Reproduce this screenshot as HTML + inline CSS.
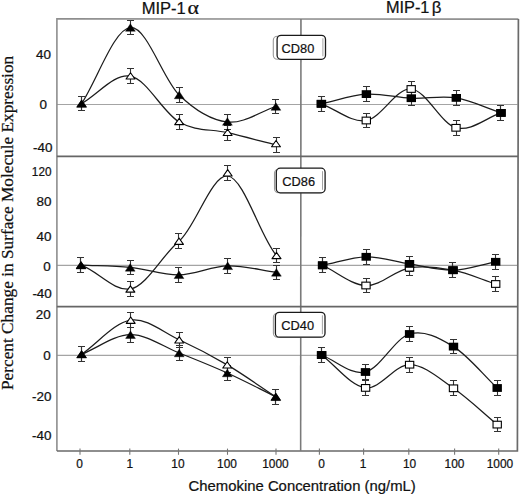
<!DOCTYPE html>
<html><head><meta charset="utf-8"><style>
html,body{margin:0;padding:0;background:#fff;}
svg{display:block;}
text{font-family:"Liberation Sans",sans-serif;fill:#111;stroke:#111;stroke-width:0.22px;}
</style></head><body>
<svg width="520" height="495" viewBox="0 0 520 495">
<rect width="520" height="495" fill="#fff"/>
<text transform="translate(141.7,13.5) scale(1.035,1)" font-size="16">MIP-1</text><text transform="translate(187.5,13.6) scale(1.22,1)" style="font-family:'Liberation Serif',serif" font-size="18">α</text>
<text transform="translate(385.9,13.4) scale(1.02,1)" font-size="16">MIP-1<tspan dx="2.4" font-size="16.5">β</tspan></text>
<text transform="translate(13.3,390) rotate(-90)" font-size="17.28" style="font-family:'Liberation Serif',serif">Percent Change in Surface Molecule Expression</text>
<text x="188.6" y="490.8" font-size="14.87">Chemokine Concentration (ng/mL)</text>
<g font-size="12"><text transform="translate(50.900000000000006,58.5) scale(1.12,1)" text-anchor="end">40</text><text transform="translate(47.0,108.5) scale(1.12,1)" text-anchor="end">0</text><text transform="translate(52.5,151.9) scale(1.12,1)" text-anchor="end">-40</text><text transform="translate(51.5,175.60000000000002) scale(0.98,1)" text-anchor="end">120</text><text transform="translate(51.5,206.3) scale(1.12,1)" text-anchor="end">80</text><text transform="translate(51.5,240.60000000000002) scale(1.12,1)" text-anchor="end">40</text><text transform="translate(50.7,270.5) scale(1.12,1)" text-anchor="end">0</text><text transform="translate(51.800000000000004,298.3) scale(1.12,1)" text-anchor="end">-40</text><text transform="translate(50.7,319.3) scale(1.12,1)" text-anchor="end">20</text><text transform="translate(50.7,359.8) scale(1.12,1)" text-anchor="end">0</text><text transform="translate(51.5,400.5) scale(1.12,1)" text-anchor="end">-20</text><text transform="translate(51.5,439.5) scale(1.12,1)" text-anchor="end">-40</text></g>
<g font-size="11.9"><text x="79.6" y="467.8" text-anchor="middle">0</text><text x="129.8" y="467.8" text-anchor="middle">1</text><text x="177.9" y="467.8" text-anchor="middle">10</text><text x="227" y="467.8" text-anchor="middle">100</text><text x="275.45" y="467.8" text-anchor="middle">1000</text><text x="321.5" y="467.8" text-anchor="middle">0</text><text x="363.1" y="467.8" text-anchor="middle">1</text><text x="409.6" y="467.8" text-anchor="middle">10</text><text x="454.5" y="467.8" text-anchor="middle">100</text><text x="499.9" y="467.8" text-anchor="middle">1000</text></g>
<path d="M57,104.5H517.5" stroke="#a4a4a4" stroke-width="1.2" fill="none"/><path d="M57,265.4H517.5" stroke="#a4a4a4" stroke-width="1.2" fill="none"/><path d="M57,355.3H517.5" stroke="#a4a4a4" stroke-width="1.2" fill="none"/><path d="M81.60,103.60 C97.87,78.23 114.13,28.93 130.40,27.50 C146.67,26.07 162.93,79.15 179.20,95.00 C195.27,110.65 211.33,120.09 227.40,122.00 C243.57,123.92 259.73,111.67 275.90,106.50" stroke="#1c1c1c" stroke-width="1.25" fill="none"/><path d="M81.60,103.60 C97.90,94.47 114.20,73.13 130.50,76.20 C146.73,79.26 162.97,112.55 179.20,122.00 C195.33,131.39 211.47,128.88 227.60,132.70 C243.73,136.52 259.87,140.83 276.00,144.90" stroke="#1c1c1c" stroke-width="1.25" fill="none"/><path d="M321.40,103.80 C336.40,100.57 351.40,95.03 366.40,94.10 C381.37,93.17 396.33,97.57 411.30,98.20 C426.30,98.83 441.30,95.44 456.30,97.90 C471.20,100.34 486.10,107.90 501.00,112.90" stroke="#1c1c1c" stroke-width="1.25" fill="none"/><path d="M321.40,103.80 C336.37,109.37 351.33,122.97 366.30,120.50 C381.27,118.03 396.23,87.78 411.20,89.00 C426.13,90.22 441.07,123.83 456.00,127.80 C471.00,131.79 486.00,117.87 501.00,112.90" stroke="#1c1c1c" stroke-width="1.25" fill="none"/><path d="M81.00,265.20 C97.40,265.93 113.80,265.79 130.20,267.40 C146.47,268.99 162.73,275.07 179.00,274.80 C195.23,274.53 211.47,266.20 227.70,265.80 C243.93,265.40 260.17,270.20 276.40,272.40" stroke="#1c1c1c" stroke-width="1.25" fill="none"/><path d="M81.00,265.20 C97.47,270.75 113.93,291.82 130.40,289.00 C146.60,286.22 162.80,254.37 179.00,241.20 C195.23,228.00 211.47,174.33 227.70,176.00 C243.97,177.67 260.23,236.95 276.50,255.50" stroke="#1c1c1c" stroke-width="1.25" fill="none"/><path d="M322.60,265.30 C337.13,262.47 351.67,257.03 366.20,256.80 C380.63,256.57 395.07,261.67 409.50,263.90 C424.00,266.14 438.50,270.55 453.00,270.20 C467.23,269.85 481.47,264.60 495.70,261.80" stroke="#1c1c1c" stroke-width="1.25" fill="none"/><path d="M322.60,265.30 C337.07,272.03 351.53,285.08 366.00,285.50 C380.50,285.92 395.00,270.35 409.50,267.80 C424.00,265.25 438.50,267.47 453.00,270.20 C467.23,272.87 481.47,279.40 495.70,284.00" stroke="#1c1c1c" stroke-width="1.25" fill="none"/><path d="M81.60,354.30 C97.90,347.77 114.20,334.92 130.50,334.70 C146.73,334.48 162.97,346.58 179.20,353.00 C195.23,359.34 211.27,365.73 227.30,373.00 C243.47,380.33 259.63,388.87 275.80,396.80" stroke="#1c1c1c" stroke-width="1.25" fill="none"/><path d="M81.60,354.30 C97.97,342.93 114.33,322.63 130.70,320.20 C146.87,317.80 163.03,332.31 179.20,339.80 C195.20,347.21 211.20,355.46 227.20,364.90 C243.40,374.46 259.60,386.17 275.80,396.80" stroke="#1c1c1c" stroke-width="1.25" fill="none"/><path d="M321.60,355.00 C336.23,360.67 350.87,375.49 365.50,372.00 C380.20,368.49 394.90,338.24 409.60,334.00 C424.23,329.78 438.87,337.58 453.50,346.60 C468.07,355.58 482.63,374.20 497.20,388.00" stroke="#1c1c1c" stroke-width="1.25" fill="none"/><path d="M321.60,355.00 C336.27,365.97 350.93,386.28 365.60,387.90 C380.27,389.52 394.93,364.63 409.60,364.70 C424.23,364.77 438.87,378.29 453.50,388.30 C468.07,398.26 482.63,412.50 497.20,424.60" stroke="#1c1c1c" stroke-width="1.25" fill="none"/><path d="M81.50,96.50V110.50M78.00,96.50h7.0M78.00,110.50h7.0" stroke="#333" stroke-width="1.1" fill="none"/><path d="M130.50,20.50V34.50M127.00,20.50h7.0M127.00,34.50h7.0" stroke="#333" stroke-width="1.1" fill="none"/><path d="M179.50,87.50V102.50M176.00,87.50h7.0M176.00,102.50h7.0" stroke="#333" stroke-width="1.1" fill="none"/><path d="M227.50,114.50V129.50M224.00,114.50h7.0M224.00,129.50h7.0" stroke="#333" stroke-width="1.1" fill="none"/><path d="M275.50,99.50V113.50M272.00,99.50h7.0M272.00,113.50h7.0" stroke="#333" stroke-width="1.1" fill="none"/><path d="M81.50,96.50V110.50M78.00,96.50h7.0M78.00,110.50h7.0" stroke="#333" stroke-width="1.1" fill="none"/><path d="M130.50,68.50V83.50M127.00,68.50h7.0M127.00,83.50h7.0" stroke="#333" stroke-width="1.1" fill="none"/><path d="M179.50,114.50V129.50M176.00,114.50h7.0M176.00,129.50h7.0" stroke="#333" stroke-width="1.1" fill="none"/><path d="M227.50,125.50V140.50M224.00,125.50h7.0M224.00,140.50h7.0" stroke="#333" stroke-width="1.1" fill="none"/><path d="M276.50,137.50V152.50M273.00,137.50h7.0M273.00,152.50h7.0" stroke="#333" stroke-width="1.1" fill="none"/><path d="M321.50,96.50V111.50M318.00,96.50h7.0M318.00,111.50h7.0" stroke="#333" stroke-width="1.1" fill="none"/><path d="M366.50,86.50V101.50M363.00,86.50h7.0M363.00,101.50h7.0" stroke="#333" stroke-width="1.1" fill="none"/><path d="M411.50,90.50V105.50M408.00,90.50h7.0M408.00,105.50h7.0" stroke="#333" stroke-width="1.1" fill="none"/><path d="M456.50,90.50V105.50M453.00,90.50h7.0M453.00,105.50h7.0" stroke="#333" stroke-width="1.1" fill="none"/><path d="M500.50,105.50V120.50M497.00,105.50h7.0M497.00,120.50h7.0" stroke="#333" stroke-width="1.1" fill="none"/><path d="M321.50,96.50V111.50M318.00,96.50h7.0M318.00,111.50h7.0" stroke="#333" stroke-width="1.1" fill="none"/><path d="M366.50,113.50V127.50M363.00,113.50h7.0M363.00,127.50h7.0" stroke="#333" stroke-width="1.1" fill="none"/><path d="M411.50,81.50V96.50M408.00,81.50h7.0M408.00,96.50h7.0" stroke="#333" stroke-width="1.1" fill="none"/><path d="M456.50,120.50V135.50M453.00,120.50h7.0M453.00,135.50h7.0" stroke="#333" stroke-width="1.1" fill="none"/><path d="M500.50,105.50V120.50M497.00,105.50h7.0M497.00,120.50h7.0" stroke="#333" stroke-width="1.1" fill="none"/><path d="M80.50,257.50V272.50M77.00,257.50h7.0M77.00,272.50h7.0" stroke="#333" stroke-width="1.1" fill="none"/><path d="M130.50,260.50V274.50M127.00,260.50h7.0M127.00,274.50h7.0" stroke="#333" stroke-width="1.1" fill="none"/><path d="M178.50,267.50V282.50M175.00,267.50h7.0M175.00,282.50h7.0" stroke="#333" stroke-width="1.1" fill="none"/><path d="M227.50,258.50V273.50M224.00,258.50h7.0M224.00,273.50h7.0" stroke="#333" stroke-width="1.1" fill="none"/><path d="M276.50,265.50V279.50M273.00,265.50h7.0M273.00,279.50h7.0" stroke="#333" stroke-width="1.1" fill="none"/><path d="M80.50,257.50V272.50M77.00,257.50h7.0M77.00,272.50h7.0" stroke="#333" stroke-width="1.1" fill="none"/><path d="M130.50,281.50V296.50M127.00,281.50h7.0M127.00,296.50h7.0" stroke="#333" stroke-width="1.1" fill="none"/><path d="M178.50,233.50V248.50M175.00,233.50h7.0M175.00,248.50h7.0" stroke="#333" stroke-width="1.1" fill="none"/><path d="M227.50,165.50V180.50M224.00,165.50h7.0M224.00,180.50h7.0" stroke="#333" stroke-width="1.1" fill="none"/><path d="M276.50,248.50V262.50M273.00,248.50h7.0M273.00,262.50h7.0" stroke="#333" stroke-width="1.1" fill="none"/><path d="M322.50,257.50V272.50M319.00,257.50h7.0M319.00,272.50h7.0" stroke="#333" stroke-width="1.1" fill="none"/><path d="M366.50,249.50V264.50M363.00,249.50h7.0M363.00,264.50h7.0" stroke="#333" stroke-width="1.1" fill="none"/><path d="M409.50,256.50V271.50M406.00,256.50h7.0M406.00,271.50h7.0" stroke="#333" stroke-width="1.1" fill="none"/><path d="M452.50,262.50V277.50M449.00,262.50h7.0M449.00,277.50h7.0" stroke="#333" stroke-width="1.1" fill="none"/><path d="M495.50,254.50V269.50M492.00,254.50h7.0M492.00,269.50h7.0" stroke="#333" stroke-width="1.1" fill="none"/><path d="M322.50,257.50V272.50M319.00,257.50h7.0M319.00,272.50h7.0" stroke="#333" stroke-width="1.1" fill="none"/><path d="M366.50,278.50V292.50M363.00,278.50h7.0M363.00,292.50h7.0" stroke="#333" stroke-width="1.1" fill="none"/><path d="M409.50,260.50V275.50M406.00,260.50h7.0M406.00,275.50h7.0" stroke="#333" stroke-width="1.1" fill="none"/><path d="M452.50,262.50V277.50M449.00,262.50h7.0M449.00,277.50h7.0" stroke="#333" stroke-width="1.1" fill="none"/><path d="M495.50,276.50V291.50M492.00,276.50h7.0M492.00,291.50h7.0" stroke="#333" stroke-width="1.1" fill="none"/><path d="M81.50,346.50V361.50M78.00,346.50h7.0M78.00,361.50h7.0" stroke="#333" stroke-width="1.1" fill="none"/><path d="M130.50,327.50V342.50M127.00,327.50h7.0M127.00,342.50h7.0" stroke="#333" stroke-width="1.1" fill="none"/><path d="M179.50,345.50V360.50M176.00,345.50h7.0M176.00,360.50h7.0" stroke="#333" stroke-width="1.1" fill="none"/><path d="M227.50,365.50V380.50M224.00,365.50h7.0M224.00,380.50h7.0" stroke="#333" stroke-width="1.1" fill="none"/><path d="M275.50,389.50V404.50M272.00,389.50h7.0M272.00,404.50h7.0" stroke="#333" stroke-width="1.1" fill="none"/><path d="M81.50,346.50V361.50M78.00,346.50h7.0M78.00,361.50h7.0" stroke="#333" stroke-width="1.1" fill="none"/><path d="M130.50,312.50V327.50M127.00,312.50h7.0M127.00,327.50h7.0" stroke="#333" stroke-width="1.1" fill="none"/><path d="M179.50,332.50V347.50M176.00,332.50h7.0M176.00,347.50h7.0" stroke="#333" stroke-width="1.1" fill="none"/><path d="M227.50,357.50V372.50M224.00,357.50h7.0M224.00,372.50h7.0" stroke="#333" stroke-width="1.1" fill="none"/><path d="M275.50,389.50V404.50M272.00,389.50h7.0M272.00,404.50h7.0" stroke="#333" stroke-width="1.1" fill="none"/><path d="M321.50,347.50V362.50M318.00,347.50h7.0M318.00,362.50h7.0" stroke="#333" stroke-width="1.1" fill="none"/><path d="M365.50,364.50V379.50M362.00,364.50h7.0M362.00,379.50h7.0" stroke="#333" stroke-width="1.1" fill="none"/><path d="M409.50,326.50V341.50M406.00,326.50h7.0M406.00,341.50h7.0" stroke="#333" stroke-width="1.1" fill="none"/><path d="M453.50,339.50V353.50M450.00,339.50h7.0M450.00,353.50h7.0" stroke="#333" stroke-width="1.1" fill="none"/><path d="M497.50,380.50V395.50M494.00,380.50h7.0M494.00,395.50h7.0" stroke="#333" stroke-width="1.1" fill="none"/><path d="M321.50,347.50V362.50M318.00,347.50h7.0M318.00,362.50h7.0" stroke="#333" stroke-width="1.1" fill="none"/><path d="M365.50,380.50V395.50M362.00,380.50h7.0M362.00,395.50h7.0" stroke="#333" stroke-width="1.1" fill="none"/><path d="M409.50,357.50V372.50M406.00,357.50h7.0M406.00,372.50h7.0" stroke="#333" stroke-width="1.1" fill="none"/><path d="M453.50,380.50V395.50M450.00,380.50h7.0M450.00,395.50h7.0" stroke="#333" stroke-width="1.1" fill="none"/><path d="M497.50,417.50V431.50M494.00,417.50h7.0M494.00,431.50h7.0" stroke="#333" stroke-width="1.1" fill="none"/><polygon points="81.60,100.45 86.05,106.75 77.15,106.75" fill="#fff" stroke="#000" stroke-width="1.1" stroke-linejoin="round"/><polygon points="130.50,72.75 134.95,79.05 126.05,79.05" fill="#fff" stroke="#000" stroke-width="1.1" stroke-linejoin="round"/><polygon points="179.20,118.35 183.65,124.65 174.75,124.65" fill="#fff" stroke="#000" stroke-width="1.1" stroke-linejoin="round"/><polygon points="227.60,129.20 232.05,135.50 223.15,135.50" fill="#fff" stroke="#000" stroke-width="1.1" stroke-linejoin="round"/><polygon points="276.00,140.50 280.45,146.80 271.55,146.80" fill="#fff" stroke="#000" stroke-width="1.1" stroke-linejoin="round"/><rect x="317.25" y="100.45" width="8.30" height="6.70" fill="#fff" stroke="#000" stroke-width="1.1"/><rect x="362.15" y="117.15" width="8.30" height="6.70" fill="#fff" stroke="#000" stroke-width="1.1"/><rect x="407.05" y="85.65" width="8.30" height="6.70" fill="#fff" stroke="#000" stroke-width="1.1"/><rect x="451.85" y="124.45" width="8.30" height="6.70" fill="#fff" stroke="#000" stroke-width="1.1"/><rect x="496.85" y="109.55" width="8.30" height="6.70" fill="#fff" stroke="#000" stroke-width="1.1"/><polygon points="81.00,262.05 85.45,268.35 76.55,268.35" fill="#fff" stroke="#000" stroke-width="1.1" stroke-linejoin="round"/><polygon points="130.40,285.85 134.85,292.15 125.95,292.15" fill="#fff" stroke="#000" stroke-width="1.1" stroke-linejoin="round"/><polygon points="179.00,238.05 183.45,244.35 174.55,244.35" fill="#fff" stroke="#000" stroke-width="1.1" stroke-linejoin="round"/><polygon points="227.70,169.65 232.15,175.95 223.25,175.95" fill="#fff" stroke="#000" stroke-width="1.1" stroke-linejoin="round"/><polygon points="276.50,252.35 280.95,258.65 272.05,258.65" fill="#fff" stroke="#000" stroke-width="1.1" stroke-linejoin="round"/><rect x="318.45" y="261.95" width="8.30" height="6.70" fill="#fff" stroke="#000" stroke-width="1.1"/><rect x="361.85" y="282.15" width="8.30" height="6.70" fill="#fff" stroke="#000" stroke-width="1.1"/><rect x="405.35" y="264.45" width="8.30" height="6.70" fill="#fff" stroke="#000" stroke-width="1.1"/><rect x="448.85" y="266.85" width="8.30" height="6.70" fill="#fff" stroke="#000" stroke-width="1.1"/><rect x="491.55" y="280.65" width="8.30" height="6.70" fill="#fff" stroke="#000" stroke-width="1.1"/><polygon points="81.60,351.15 86.05,357.45 77.15,357.45" fill="#fff" stroke="#000" stroke-width="1.1" stroke-linejoin="round"/><polygon points="130.70,317.05 135.15,323.35 126.25,323.35" fill="#fff" stroke="#000" stroke-width="1.1" stroke-linejoin="round"/><polygon points="179.20,336.65 183.65,342.95 174.75,342.95" fill="#fff" stroke="#000" stroke-width="1.1" stroke-linejoin="round"/><polygon points="227.20,361.75 231.65,368.05 222.75,368.05" fill="#fff" stroke="#000" stroke-width="1.1" stroke-linejoin="round"/><polygon points="275.80,393.65 280.25,399.95 271.35,399.95" fill="#fff" stroke="#000" stroke-width="1.1" stroke-linejoin="round"/><rect x="317.45" y="351.65" width="8.30" height="6.70" fill="#fff" stroke="#000" stroke-width="1.1"/><rect x="361.45" y="384.55" width="8.30" height="6.70" fill="#fff" stroke="#000" stroke-width="1.1"/><rect x="405.45" y="361.35" width="8.30" height="6.70" fill="#fff" stroke="#000" stroke-width="1.1"/><rect x="449.35" y="384.95" width="8.30" height="6.70" fill="#fff" stroke="#000" stroke-width="1.1"/><rect x="493.05" y="421.25" width="8.30" height="6.70" fill="#fff" stroke="#000" stroke-width="1.1"/><polygon points="81.60,99.85 86.50,107.35 76.70,107.35" fill="#000" stroke="#000" stroke-width="0.4" stroke-linejoin="round"/><polygon points="130.40,23.75 135.30,31.25 125.50,31.25" fill="#000" stroke="#000" stroke-width="0.4" stroke-linejoin="round"/><polygon points="179.20,91.25 184.10,98.75 174.30,98.75" fill="#000" stroke="#000" stroke-width="0.4" stroke-linejoin="round"/><polygon points="227.40,117.75 232.30,125.25 222.50,125.25" fill="#000" stroke="#000" stroke-width="0.4" stroke-linejoin="round"/><polygon points="275.90,102.75 280.80,110.25 271.00,110.25" fill="#000" stroke="#000" stroke-width="0.4" stroke-linejoin="round"/><rect x="316.70" y="99.90" width="9.4" height="7.8" fill="#000"/><rect x="361.70" y="90.20" width="9.4" height="7.8" fill="#000"/><rect x="406.60" y="94.30" width="9.4" height="7.8" fill="#000"/><rect x="451.60" y="94.00" width="9.4" height="7.8" fill="#000"/><rect x="496.30" y="109.00" width="9.4" height="7.8" fill="#000"/><polygon points="81.00,261.45 85.90,268.95 76.10,268.95" fill="#000" stroke="#000" stroke-width="0.4" stroke-linejoin="round"/><polygon points="130.20,263.65 135.10,271.15 125.30,271.15" fill="#000" stroke="#000" stroke-width="0.4" stroke-linejoin="round"/><polygon points="179.00,271.05 183.90,278.55 174.10,278.55" fill="#000" stroke="#000" stroke-width="0.4" stroke-linejoin="round"/><polygon points="227.70,262.05 232.60,269.55 222.80,269.55" fill="#000" stroke="#000" stroke-width="0.4" stroke-linejoin="round"/><polygon points="276.40,268.65 281.30,276.15 271.50,276.15" fill="#000" stroke="#000" stroke-width="0.4" stroke-linejoin="round"/><rect x="317.90" y="261.40" width="9.4" height="7.8" fill="#000"/><rect x="361.50" y="252.90" width="9.4" height="7.8" fill="#000"/><rect x="404.80" y="260.00" width="9.4" height="7.8" fill="#000"/><rect x="448.30" y="266.30" width="9.4" height="7.8" fill="#000"/><rect x="491.00" y="257.90" width="9.4" height="7.8" fill="#000"/><polygon points="81.60,350.55 86.50,358.05 76.70,358.05" fill="#000" stroke="#000" stroke-width="0.4" stroke-linejoin="round"/><polygon points="130.50,330.95 135.40,338.45 125.60,338.45" fill="#000" stroke="#000" stroke-width="0.4" stroke-linejoin="round"/><polygon points="179.20,349.25 184.10,356.75 174.30,356.75" fill="#000" stroke="#000" stroke-width="0.4" stroke-linejoin="round"/><polygon points="227.30,369.25 232.20,376.75 222.40,376.75" fill="#000" stroke="#000" stroke-width="0.4" stroke-linejoin="round"/><polygon points="275.80,393.05 280.70,400.55 270.90,400.55" fill="#000" stroke="#000" stroke-width="0.4" stroke-linejoin="round"/><rect x="316.90" y="351.10" width="9.4" height="7.8" fill="#000"/><rect x="360.80" y="368.10" width="9.4" height="7.8" fill="#000"/><rect x="404.90" y="330.10" width="9.4" height="7.8" fill="#000"/><rect x="448.80" y="342.70" width="9.4" height="7.8" fill="#000"/><rect x="492.50" y="384.10" width="9.4" height="7.8" fill="#000"/>

<path d="M56.9,451 L56.9,18.9 L518.4,19.1" stroke="#8e8e8e" stroke-width="1.6" fill="none" stroke-linejoin="miter"/>
<path d="M518.4,19.1 L517.4,451 L56.9,451" stroke="#6a6a6a" stroke-width="1.7" fill="none"/>
<path d="M300.95,18.9L300.65,451" stroke="#7a7a7a" stroke-width="1.6" fill="none"/>
<path d="M56.9,156.4H518M56.9,306.6H517.8" stroke="#666" stroke-width="1.6" fill="none"/>

<path d="M80,448.6V454.8" stroke="#777" stroke-width="1.1"/><path d="M129.8,448.6V454.8" stroke="#777" stroke-width="1.1"/><path d="M178.5,448.6V454.8" stroke="#777" stroke-width="1.1"/><path d="M227.5,448.6V454.8" stroke="#777" stroke-width="1.1"/><path d="M276,448.6V454.8" stroke="#777" stroke-width="1.1"/><path d="M319.4,448.6V454.8" stroke="#777" stroke-width="1.1"/><path d="M363.6,448.6V454.8" stroke="#777" stroke-width="1.1"/><path d="M408.8,448.6V454.8" stroke="#777" stroke-width="1.1"/><path d="M454.6,448.6V454.8" stroke="#777" stroke-width="1.1"/><path d="M498.7,448.6V454.8" stroke="#777" stroke-width="1.1"/>
<rect x="273.3" y="36.3" width="48.4" height="23" rx="4" fill="none" stroke="#999" stroke-width="1.1"/>
<rect x="277.1" y="35.3" width="48.4" height="24" rx="4" fill="#fff" stroke="#1a1a1a" stroke-width="1.3"/>
<path d="M322.9,38.3V56.3" stroke="#999" stroke-width="0.9"/>
<text x="281.6" y="52.699999999999996" font-size="12.8" fill="#111">CD80</text><rect x="274.5" y="169.2" width="48.8" height="23.6" rx="4" fill="none" stroke="#999" stroke-width="1.1"/>
<rect x="276.3" y="168.2" width="48.8" height="24.6" rx="4" fill="#fff" stroke="#1a1a1a" stroke-width="1.3"/>
<path d="M322.5,171.2V189.79999999999998" stroke="#999" stroke-width="0.9"/>
<text x="282.3" y="186.1" font-size="12.8" fill="#111">CD86</text><rect x="273.4" y="313.3" width="49.6" height="23.9" rx="4" fill="none" stroke="#999" stroke-width="1.1"/>
<rect x="275.4" y="312.3" width="49.6" height="24.9" rx="4" fill="#fff" stroke="#1a1a1a" stroke-width="1.3"/>
<path d="M322.4,315.3V334.2" stroke="#999" stroke-width="0.9"/>
<text x="281.3" y="330.35" font-size="12.8" fill="#111">CD40</text>
</svg>
</body></html>
